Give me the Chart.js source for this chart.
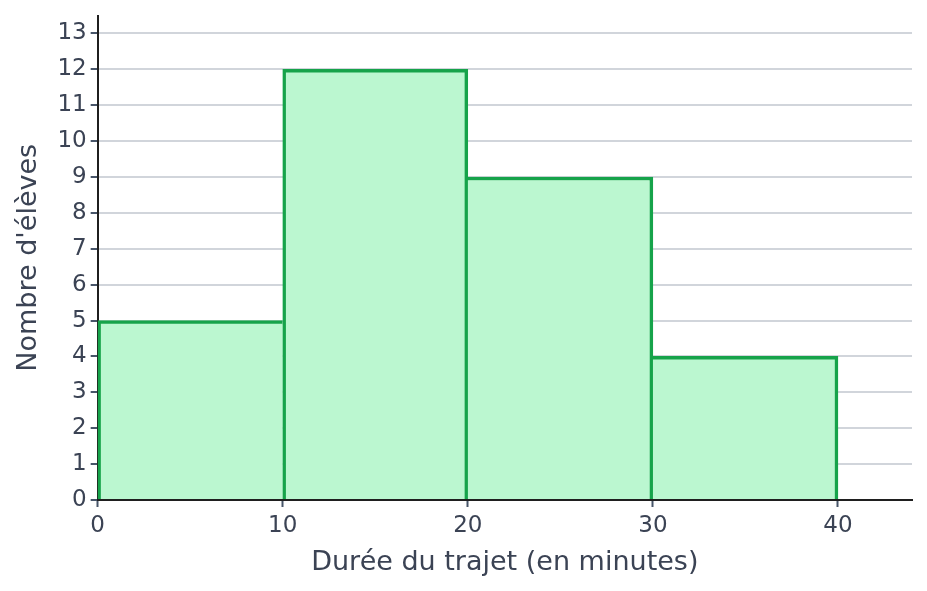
<!DOCTYPE html>
<html>
<head>
<meta charset="utf-8">
<script src="https://cdn.jsdelivr.net/npm/chart.js@4/dist/chart.umd.min.js"></script>
<style>
  html, body { margin: 0; padding: 0; background: #fff; }
  #wrap { width: 927px; height: 591px; }
</style>
</head>
<body>
<div id="wrap"><canvas id="histChart"></canvas></div>
<script>
// bornes des classes (minutes) et effectifs
const binStarts = [0, 10, 20, 30];
const binWidth = 10;
const counts = [5, 12, 9, 4];
const xTicks = [0, 10, 20, 30, 40];

const textColor = '#3b4354';
const edge = 3.5;
const points = binStarts.map((s, i) => ({ x: s + binWidth / 2, y: counts[i] }));

Chart.defaults.font.family = '"DejaVu Sans", sans-serif';
Chart.defaults.color = textColor;

// un seul trait par arête commune : la barre la plus haute le porte
function edges(c) {
    const i = c.dataIndex, n = counts.length;
    return {
        top: edge,
        bottom: 0,
        left: (i === 0 || counts[i] > counts[i - 1]) ? edge : 0,
        right: (i === n - 1 || counts[i] >= counts[i + 1]) ? edge : 0
    };
}

const ctx = document.getElementById('histChart').getContext('2d');
new Chart(ctx, {
    type: 'bar',
    data: {
        datasets: [{
            label: "Nombre d'élèves",
            data: points,
            backgroundColor: '#bbf7d0',
            borderColor: '#16a34a',
            borderWidth: edges,
            borderSkipped: false,
            barPercentage: 1,
            categoryPercentage: 1
        }]
    },
    options: {
        responsive: true,
        maintainAspectRatio: false,
        animation: false,
        layout: { padding: { top: 14, right: 15, left: 9, bottom: 8 } },
        plugins: {
            legend: { display: false },
            tooltip: { enabled: false }
        },
        scales: {
            x: {
                type: 'linear',
                offset: false,
                min: 0,
                max: 44,
                afterBuildTicks: axis => { axis.ticks = xTicks.map(v => ({ value: v })); },
                ticks: { font: { size: 23 }, color: textColor, padding: 5 },
                grid: { offset: false, drawOnChartArea: false, drawTicks: true, tickLength: 7, tickColor: '#475569', tickWidth: 2 },
                border: { color: '#1f1f1f', width: 2 },
                title: { display: true, text: 'Durée du trajet (en minutes)', font: { size: 27 }, color: textColor, padding: { top: 2 } }
            },
            y: {
                min: 0,
                max: 13.5,
                ticks: { stepSize: 1, includeBounds: false, font: { size: 23, lineHeight: 1 }, color: textColor, padding: 4 },
                grid: { color: '#d1d5db', lineWidth: 2, tickLength: 7, tickColor: '#475569', tickWidth: 2 },
                border: { color: '#1f1f1f', width: 2 },
                title: { display: true, text: "Nombre d'élèves", font: { size: 27 }, color: textColor, padding: { bottom: 8 } }
            }
        }
    }
});
</script>
</body>
</html>
